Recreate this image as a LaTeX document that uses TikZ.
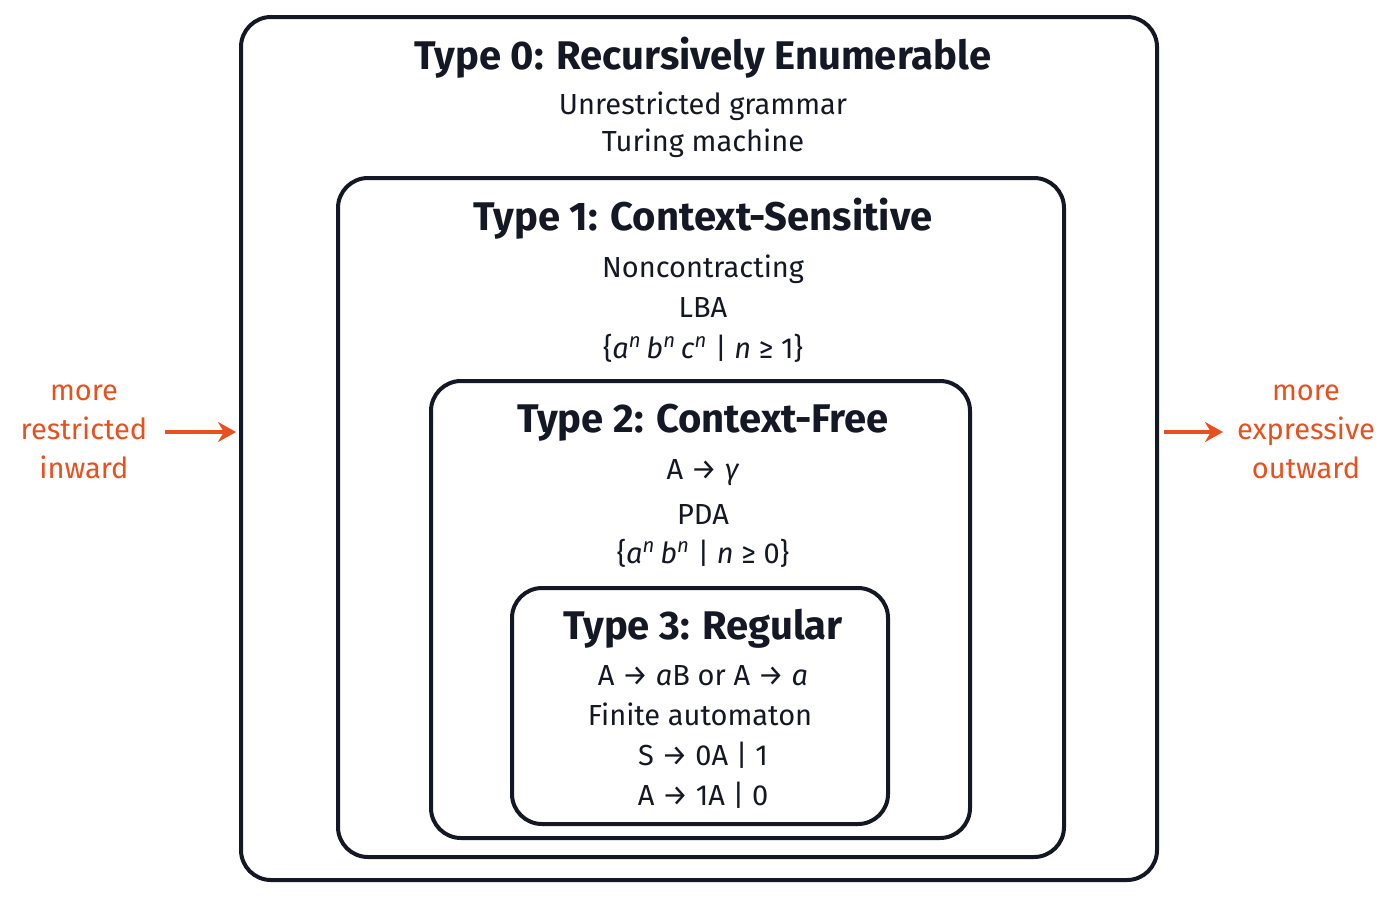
\documentclass[tikz,border=0pt]{standalone}
\usepackage{fontspec}
\setmainfont{Fira Sans}
\usetikzlibrary{arrows.meta}
\definecolor{acc}{HTML}{E8501E}
\definecolor{ink}{HTML}{141824}
\newcommand{\sps}[1]{\textsuperscript{\itshape #1}}
\begin{document}
\begin{tikzpicture}[x=0.5pt,y=-0.5pt,
 box/.style={draw=ink,line width=2pt,rounded corners=15pt},
 ttl/.style={font=\fontsize{20}{23}\selectfont\bfseries,text=ink},
 txt/.style={font=\fontsize{14.5}{17}\selectfont,text=ink},
 side/.style={font=\fontsize{14.5}{19.5}\selectfont\mdseries,text=acc,align=center},
 arr/.style={draw=acc,line width=2.2pt,-{Stealth[length=9pt,width=10pt]}}]
\useasboundingbox (0,0) rectangle (1400,900);
\draw[box] (241,17) rectangle (1157,880);
\draw[box] (338,178) rectangle (1064,857);
\draw[box] (431,381) rectangle (970,838);
\draw[box] (512,588) rectangle (888,824);
\node[ttl] (t0) at (703,58) {Type 0: Recursively Enumerable};
\node[txt] (t0a) at (703,106) {Unrestricted grammar};
\node[txt] (t0b) at (703,143) {Turing machine};
\node[ttl] (t1) at (703,219) {Type 1: Context-Sensitive};
\node[txt] (t1a) at (703,269) {Noncontracting};
\node[txt] (t1b) at (703,308) {LBA};
\node[txt] (t1c) at (703,348) {\{\textit{a}\sps{n}\,\textit{b}\sps{n}\,\textit{c}\sps{n} | \textit{n} ≥ 1\}};
\node[ttl] (t2) at (703,423) {Type 2: Context-Free};
\node[txt] (t2a) at (703,473) {A → \textit{γ}};
\node[txt] (t2b) at (703,514) {PDA};
\node[txt] (t2c) at (703,553) {\{\textit{a}\sps{n}\,\textit{b}\sps{n} | \textit{n} ≥ 0\}};
\node[ttl] (t3) at (703,629) {Type 3: Regular};
\node[txt] (t3a) at (703,676) {A → \textit{a}B or A → \textit{a}};
\node[txt] (t3b) at (700,714) {Finite automaton};
\node[txt] (t3c) at (703,755) {S → 0A | 1};
\node[txt] (t3d) at (703,795) {A → 1A | 0};
\node[side] (l) at (84,432) {more\\restricted\\inward};
\node[side] (r) at (1306,432) {more\\expressive\\outward};
\coordinate (la) at (165,432); \coordinate (lb) at (236,432);
\coordinate (ra) at (1164,432); \coordinate (rb) at (1223,432);
\draw[arr] (la) -- (lb);
\draw[arr] (ra) -- (rb);
\end{tikzpicture}
\end{document}
